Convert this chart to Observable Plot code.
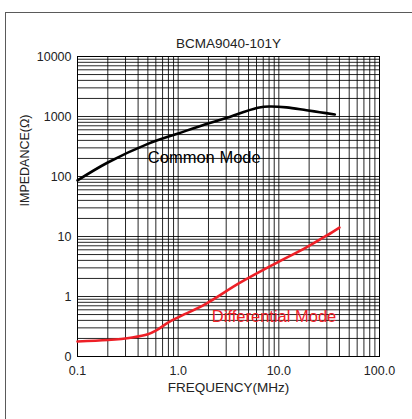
<!DOCTYPE html>
<html>
<head>
<meta charset="utf-8">
<script src="https://cdn.jsdelivr.net/npm/d3@7"></script>
<script src="https://cdn.jsdelivr.net/npm/@observablehq/plot@0.6"></script>
<style>
  html, body { margin: 0; padding: 0; background: #fff; }
  #wrap { position: relative; width: 412px; height: 419px; overflow: hidden; }
  #border { position: absolute; left: 5px; top: 12px; width: 420px; height: 420px;
            border-top: 1.5px solid #5a5a5a; border-left: 1.5px solid #5a5a5a; pointer-events: none; }
</style>
</head>
<body>
<div id="wrap"><div id="border"></div></div>
<script>
const title = "BCMA9040-101Y";
const xLabel = "FREQUENCY(MHz)";
const yLabel = "IMPEDANCE(\u03A9)";

const xTicks = [0.1, 1, 10, 100];
const xTickLabels = ["0.1", "1.0", "10.0", "100.0"];
const yTicks = [0.1, 1, 10, 100, 1000, 10000];
const yTickLabels = ["0", "1", "10", "100", "1000", "10000"];
const gridMultiples = [1, 2, 3, 4, 5, 6, 7, 8, 9];

const commonFreq = [0.1, 0.2, 0.5, 1, 1.9, 3, 4.4, 6.4, 8, 11.9, 18.8, 25.5, 36];
const commonZ    = [86, 171, 350, 521, 750, 945, 1180, 1410, 1468, 1420, 1270, 1180, 1080];

const diffFreq = [0.1, 0.2, 0.35, 0.5, 0.6, 0.8, 1, 1.85, 4, 8.8, 18.8, 30, 40];
const diffZ    = [0.178, 0.188, 0.208, 0.235, 0.27, 0.37, 0.45, 0.74, 1.65, 3.4, 6.6, 10.4, 14.1];

const seriesNames = ["Common Mode", "Differential Mode"];
const seriesColors = ["#000000", "#ee2027"];
const labelFreq = [0.5, 2.16];
const labelZ = [207, 0.46];

const common = commonFreq.map((f, i) => ({f, z: commonZ[i]}));
const diff = diffFreq.map((f, i) => ({f, z: diffZ[i]}));
const labels = seriesNames.map((name, i) => ({name, f: labelFreq[i], z: labelZ[i], color: seriesColors[i]}));

// log grid lines: every multiple 1..9 of each decade tick
const xGrid = xTicks.flatMap(t => gridMultiples.map(m => t * m)).filter(v => v <= 100 * 1.0001);
const yGrid = yTicks.flatMap(t => gridMultiples.map(m => t * m)).filter(v => v <= 10000 * 1.0001);

const chart = Plot.plot({
  width: 412,
  height: 419,
  marginTop: 56,
  marginLeft: 77,
  marginRight: 33,
  marginBottom: 63,
  style: {fontFamily: "'Liberation Sans', Arial, sans-serif", fontSize: "12.5px", color: "#222", background: "transparent"},
  x: {type: "log", domain: [0.1, 100]},
  y: {type: "log", domain: [0.1, 10000]},
  marks: [
    Plot.ruleX(xGrid, {stroke: "#000", strokeOpacity: 0.85, strokeWidth: 1}),
    Plot.ruleY(yGrid, {stroke: "#000", strokeOpacity: 0.85, strokeWidth: 1}),
    Plot.frame({stroke: "#000", strokeWidth: 1}),
    Plot.axisX({ticks: xTicks, tickFormat: d => xTickLabels[xTicks.indexOf(d)], tickSize: 0, tickPadding: 10, label: null, fontSize: 12.5}),
    Plot.axisY({ticks: yTicks, tickFormat: d => yTickLabels[yTicks.indexOf(d)], tickSize: 0, tickPadding: 6, label: null, fontSize: 12.5}),
    Plot.line(common, {x: "f", y: "z", stroke: seriesColors[0], strokeWidth: 2.6, curve: "catmull-rom"}),
    Plot.line(diff, {x: "f", y: "z", stroke: seriesColors[1], strokeWidth: 2.6, curve: "catmull-rom"}),
    Plot.text(labels, {x: "f", y: "z", text: "name", fill: "color", textAnchor: "start", fontSize: 16.5}),
    Plot.text([title], {frameAnchor: "top", dy: -18, fontSize: 13.5, fill: "#222"}),
    Plot.text([xLabel], {frameAnchor: "bottom", dy: 35, fontSize: 13.5, fill: "#222"}),
    Plot.text([yLabel], {frameAnchor: "left", dx: -53, rotate: -90, fontSize: 12.5, fill: "#222"})
  ]
});
document.getElementById("wrap").insertBefore(chart, document.getElementById("border"));
chart.style.position = "absolute";
chart.style.left = "0";
chart.style.top = "0";
</script>
</body>
</html>
